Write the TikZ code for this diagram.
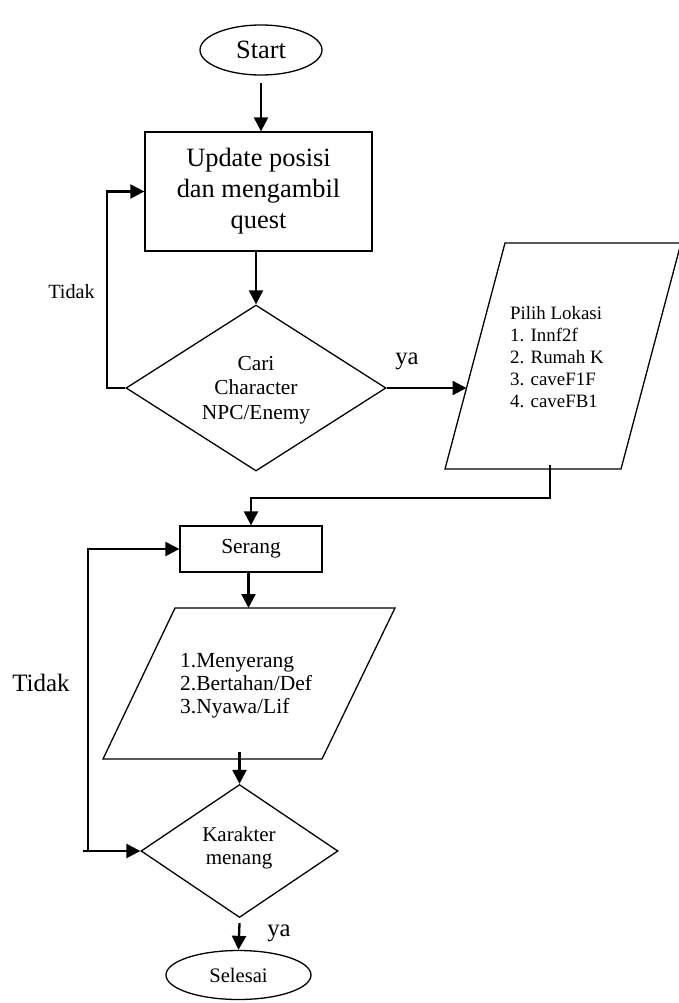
\documentclass[tikz,border=0pt]{standalone}
\usepackage{fontspec}
\setmainfont{Liberation Serif}
\usetikzlibrary{arrows.meta,shapes.geometric}
\begin{document}
\begin{tikzpicture}[x=1pt,y=-1pt,
  outline/.style={draw,line width=1.3pt},
  conn/.style={line width=2.3pt,-{Triangle[length=14pt,width=14pt]}},
  plainline/.style={line width=2.3pt},
  txt/.style={inner sep=0pt},
  fA/.style={font=\fontsize{26.4}{31}\selectfont},
  fB/.style={font=\fontsize{21.4}{24.5}\selectfont},
  fC/.style={font=\fontsize{18.9}{22}\selectfont},
  fD/.style={font=\fontsize{24.7}{28}\selectfont},
  fE/.style={font=\fontsize{20.2}{24}\selectfont}]
\useasboundingbox (0,0) rectangle (678,1003);

% nodes
\node[outline,ellipse,minimum width=122pt,minimum height=50pt,inner sep=0pt,fA] (start) at (261,50) {Start};
\node[outline,rectangle,minimum width=227pt,minimum height=119pt,inner sep=0pt,align=center,fA] (upd) at (258.5,191.5) {Update posisi\\dan mengambil\\quest};
\node[outline,diamond,minimum width=260pt,minimum height=166pt,inner sep=0pt] (d1) at (256,388) {};
\node[txt,align=center,fB] (d1t) at (256,390) {Cari\\Character\\NPC/Enemy};

% parallelogram 1
\coordinate (p1a) at (505,243);
\coordinate (p1b) at (681,243);
\coordinate (p1c) at (621,469);
\coordinate (p1d) at (445,469);
\draw[outline] (p1a) -- (p1b) -- (p1c) -- (p1d) -- cycle;
\node[txt,anchor=west,align=left,fC] (p1t) at (510,357) {Pilih Lokasi\\1. Innf2f\\2. Rumah K\\3. caveF1F\\4. caveFB1};
\coordinate (p1in) at (466.5,388);
\coordinate (p1out) at (550,465);
\coordinate (j1) at (550,498);

\node[outline,rectangle,minimum width=142pt,minimum height=46pt,inner sep=0pt,fB] (ser) at (251,549) {Serang};

% parallelogram 2
\coordinate (p2a) at (175,608);
\coordinate (p2b) at (395,608);
\coordinate (p2c) at (322,759);
\coordinate (p2d) at (103,759);
\draw[outline] (p2a) -- (p2b) -- (p2c) -- (p2d) -- cycle;
\node[txt,anchor=west,align=left,font=\fontsize{21.5}{23}\selectfont] (p2t) at (180,686) {1.Menyerang\\2.Bertahan/Def\\3.Nyawa/Lif};
\coordinate (p2mid) at (248.5,683.5);
\coordinate (p2out) at (239.5,752);

\node[outline,diamond,minimum width=197pt,minimum height=133pt,inner sep=0pt] (d2) at (239.5,851) {};
\node[txt,align=center,font=\fontsize{21}{23.5}\selectfont] (d2t) at (239,848) {Karakter\\menang};

\node[outline,ellipse,minimum width=145pt,minimum height=49pt,inner sep=0pt,font=\fontsize{20.6}{24}\selectfont] (sel) at (238.5,975) {Selesai};

% loop coordinates
\coordinate (lp1) at (107,0);
\coordinate (lp2) at (88,0);

% labels
\node[txt,fE] (tidak1) at (71.5,292) {Tidak};
\node[txt,fD] (ya1) at (407,361) {ya};
\node[txt,font=\fontsize{25}{28}\selectfont] (tidak2) at (41,683) {Tidak};
\node[txt,fD] (ya2) at (279,933) {ya};

% connectors
\draw[conn] ([yshift=-7pt]start.south) -- (start.south |- upd.north);
\draw[conn] (d1.north |- upd.south) -- (d1.north);
\draw[conn] (d1.west) -- (d1.west -| lp1) -- (lp1 |- upd.west) -- (upd.west);
\draw[conn] (d1.east) -- (p1in);
\draw[conn] (p1out) -- (j1) -| (ser.north);
\draw[conn] (p2mid |- ser.south) -- (p2mid |- p2a);
\draw[conn] (p2out) -- (d2.north);
\draw[conn] ([xshift=-5pt]lp2 |- d2.west) -- (d2.west);
\draw[conn] (lp2 |- d2.west) -- (lp2 |- ser.west) -- (ser.west);
\draw[conn] ([yshift=-5pt]d2.south) -- (sel.north);
\end{tikzpicture}
\end{document}
